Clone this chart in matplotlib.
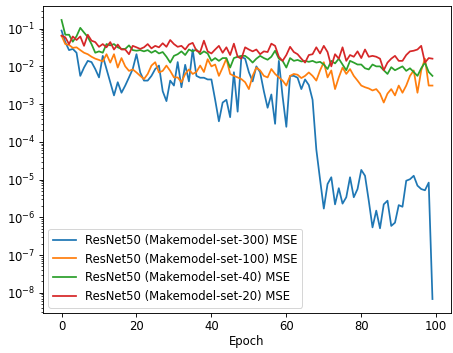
import matplotlib
matplotlib.use("Agg")
import matplotlib.pyplot as plt
import matplotlib.ticker as mticker
import numpy as np

epochs = np.arange(100)

mse_set300 = [
    0.089, 0.044, 0.027, 0.029, 0.023, 0.0056, 0.0093, 0.014, 0.013, 0.0085,
    0.0051, 0.019, 0.0085, 0.0038, 0.0017, 0.0038, 0.0020, 0.0031, 0.0051, 0.0085,
    0.021, 0.0069, 0.0042, 0.0042, 0.0056, 0.0085, 0.0105, 0.0022, 0.0012, 0.0042,
    0.0031, 0.013, 0.0028, 0.011, 0.0040, 0.028, 0.0056, 0.0050, 0.0050, 0.0045,
    0.0045, 0.0013, 0.00035, 0.0011, 0.0013, 0.00045, 0.0070, 0.00063, 0.018, 0.016,
    0.0070, 0.0040, 0.010, 0.0070, 0.0022, 0.0008, 0.0018, 0.0003, 0.014, 0.0016,
    0.00025, 0.0056, 0.0056, 0.0050, 0.0025, 0.0045, 0.0032, 0.0013, 6.3e-5, 1.0e-5,
    1.7e-6, 7.6e-6, 1.15e-5, 2.2e-6, 5.9e-6, 2.3e-6, 3.4e-6, 1.15e-5, 3.4e-6, 5.6e-6,
    1.8e-5, 1.26e-5, 2.75e-6, 5.4e-7, 1.5e-6, 5.1e-7, 2.2e-6, 2.75e-6, 5.9e-7, 7.2e-7,
    2.1e-6, 1.9e-6, 9.3e-6, 1.02e-5, 1.26e-5, 6.9e-6, 5.6e-6, 5.2e-6, 8.3e-6, 6.8e-9,
]

mse_set100 = [
    0.065, 0.039, 0.037, 0.031, 0.032, 0.027, 0.023, 0.021, 0.018, 0.016,
    0.0148, 0.0135, 0.021, 0.0126, 0.021, 0.0093, 0.0166, 0.010, 0.0076, 0.0083,
    0.0069, 0.0056, 0.0046, 0.0063, 0.0105, 0.0129, 0.0069, 0.0076, 0.0105, 0.0076,
    0.0051, 0.0051, 0.0038, 0.0063, 0.0083, 0.0063, 0.0071, 0.0105, 0.0071, 0.0155,
    0.010, 0.0112, 0.0056, 0.0093, 0.016, 0.0063, 0.0056, 0.0051, 0.0046, 0.0038,
    0.0025, 0.0056, 0.0093, 0.0078, 0.0056, 0.0051, 0.0085, 0.0063, 0.0051, 0.0042,
    0.0031, 0.0056, 0.0063, 0.0060, 0.0049, 0.0056, 0.0069, 0.0056, 0.0042, 0.0078,
    0.0129, 0.0051, 0.0078, 0.0025, 0.0051, 0.0093, 0.0063, 0.0085, 0.0056, 0.0042,
    0.0031, 0.0028, 0.0026, 0.0023, 0.0025, 0.0019, 0.0011, 0.0019, 0.0025, 0.0017,
    0.0031, 0.0020, 0.0031, 0.0056, 0.0078, 0.0020, 0.0078, 0.016, 0.0031, 0.0031,
]

mse_set40 = [
    0.17, 0.069, 0.069, 0.045, 0.063, 0.105, 0.079, 0.060, 0.039, 0.023,
    0.025, 0.023, 0.039, 0.036, 0.039, 0.032, 0.029, 0.029, 0.036, 0.027,
    0.026, 0.027, 0.025, 0.027, 0.023, 0.026, 0.022, 0.024, 0.018, 0.0126,
    0.019, 0.021, 0.025, 0.020, 0.028, 0.025, 0.028, 0.021, 0.025, 0.022,
    0.014, 0.0166, 0.014, 0.0166, 0.0166, 0.0093, 0.0166, 0.018, 0.019, 0.019,
    0.016, 0.0126, 0.016, 0.019, 0.0166, 0.015, 0.018, 0.026, 0.016, 0.014,
    0.0093, 0.0166, 0.014, 0.0148, 0.0135, 0.014, 0.0132, 0.014, 0.0126, 0.0132,
    0.0112, 0.0085, 0.014, 0.012, 0.016, 0.0112, 0.0079, 0.014, 0.0126, 0.0112,
    0.0112, 0.0089, 0.0083, 0.0112, 0.010, 0.010, 0.0079, 0.0063, 0.0095, 0.0079,
    0.0089, 0.010, 0.0076, 0.0089, 0.0071, 0.0056, 0.0089, 0.0126, 0.0071, 0.0056,
]

mse_set20 = [
    0.065, 0.059, 0.039, 0.062, 0.050, 0.062, 0.035, 0.069, 0.048, 0.044,
    0.033, 0.039, 0.032, 0.044, 0.028, 0.038, 0.028, 0.028, 0.021, 0.035,
    0.032, 0.029, 0.032, 0.039, 0.030, 0.035, 0.032, 0.041, 0.033, 0.050,
    0.039, 0.033, 0.035, 0.028, 0.038, 0.042, 0.026, 0.024, 0.048, 0.025,
    0.022, 0.028, 0.035, 0.023, 0.032, 0.020, 0.040, 0.018, 0.016, 0.032,
    0.028, 0.025, 0.028, 0.021, 0.025, 0.024, 0.040, 0.035, 0.018, 0.014,
    0.020, 0.033, 0.024, 0.021, 0.016, 0.0126, 0.020, 0.021, 0.032, 0.022,
    0.035, 0.024, 0.010, 0.021, 0.016, 0.032, 0.014, 0.020, 0.018, 0.025,
    0.0166, 0.028, 0.018, 0.019, 0.018, 0.016, 0.0079, 0.0126, 0.016, 0.019,
    0.014, 0.014, 0.020, 0.025, 0.026, 0.028, 0.035, 0.0126, 0.0166, 0.016,
]

labels = [
    "ResNet50 (Makemodel-set-300) MSE",
    "ResNet50 (Makemodel-set-100) MSE",
    "ResNet50 (Makemodel-set-40) MSE",
    "ResNet50 (Makemodel-set-20) MSE",
]
colors = ["#1f77b4", "#ff7f0e", "#2ca02c", "#d62728"]
y_major_ticks = [1e-8, 1e-7, 1e-6, 1e-5, 1e-4, 1e-3, 1e-2, 1e-1]

DPI = 72
FS = 11.6
fig = plt.figure(figsize=(453 / DPI, 353 / DPI), dpi=DPI)
W, H = 453, 353
left, right, top, bottom = 43, 451, 6, 313
ax = fig.add_axes([left / W, 1 - bottom / H, (right - left) / W, (bottom - top) / H])

for series, lab, col in zip([mse_set300, mse_set100, mse_set40, mse_set20], labels, colors):
    ax.plot(epochs, series, color=col, label=lab, linewidth=1.75)

ax.set_yscale("log")
ax.yaxis.set_major_locator(mticker.FixedLocator(y_major_ticks))
ax.yaxis.set_major_formatter(mticker.LogFormatterSciNotation())
ax.yaxis.set_minor_locator(mticker.LogLocator(base=10, subs=np.arange(2, 10), numticks=20))
ax.yaxis.set_minor_formatter(mticker.NullFormatter())
ax.set_xlabel("Epoch", fontsize=FS, labelpad=2)
ax.tick_params(labelsize=FS, length=4, width=0.9)
ax.tick_params(which="minor", length=2.3, width=0.7)
for s in ax.spines.values():
    s.set_linewidth(0.9)
ax.legend(loc="lower left", fontsize=FS, borderaxespad=0.45, handlelength=2.0)

fig.savefig("out.png", dpi=DPI)
